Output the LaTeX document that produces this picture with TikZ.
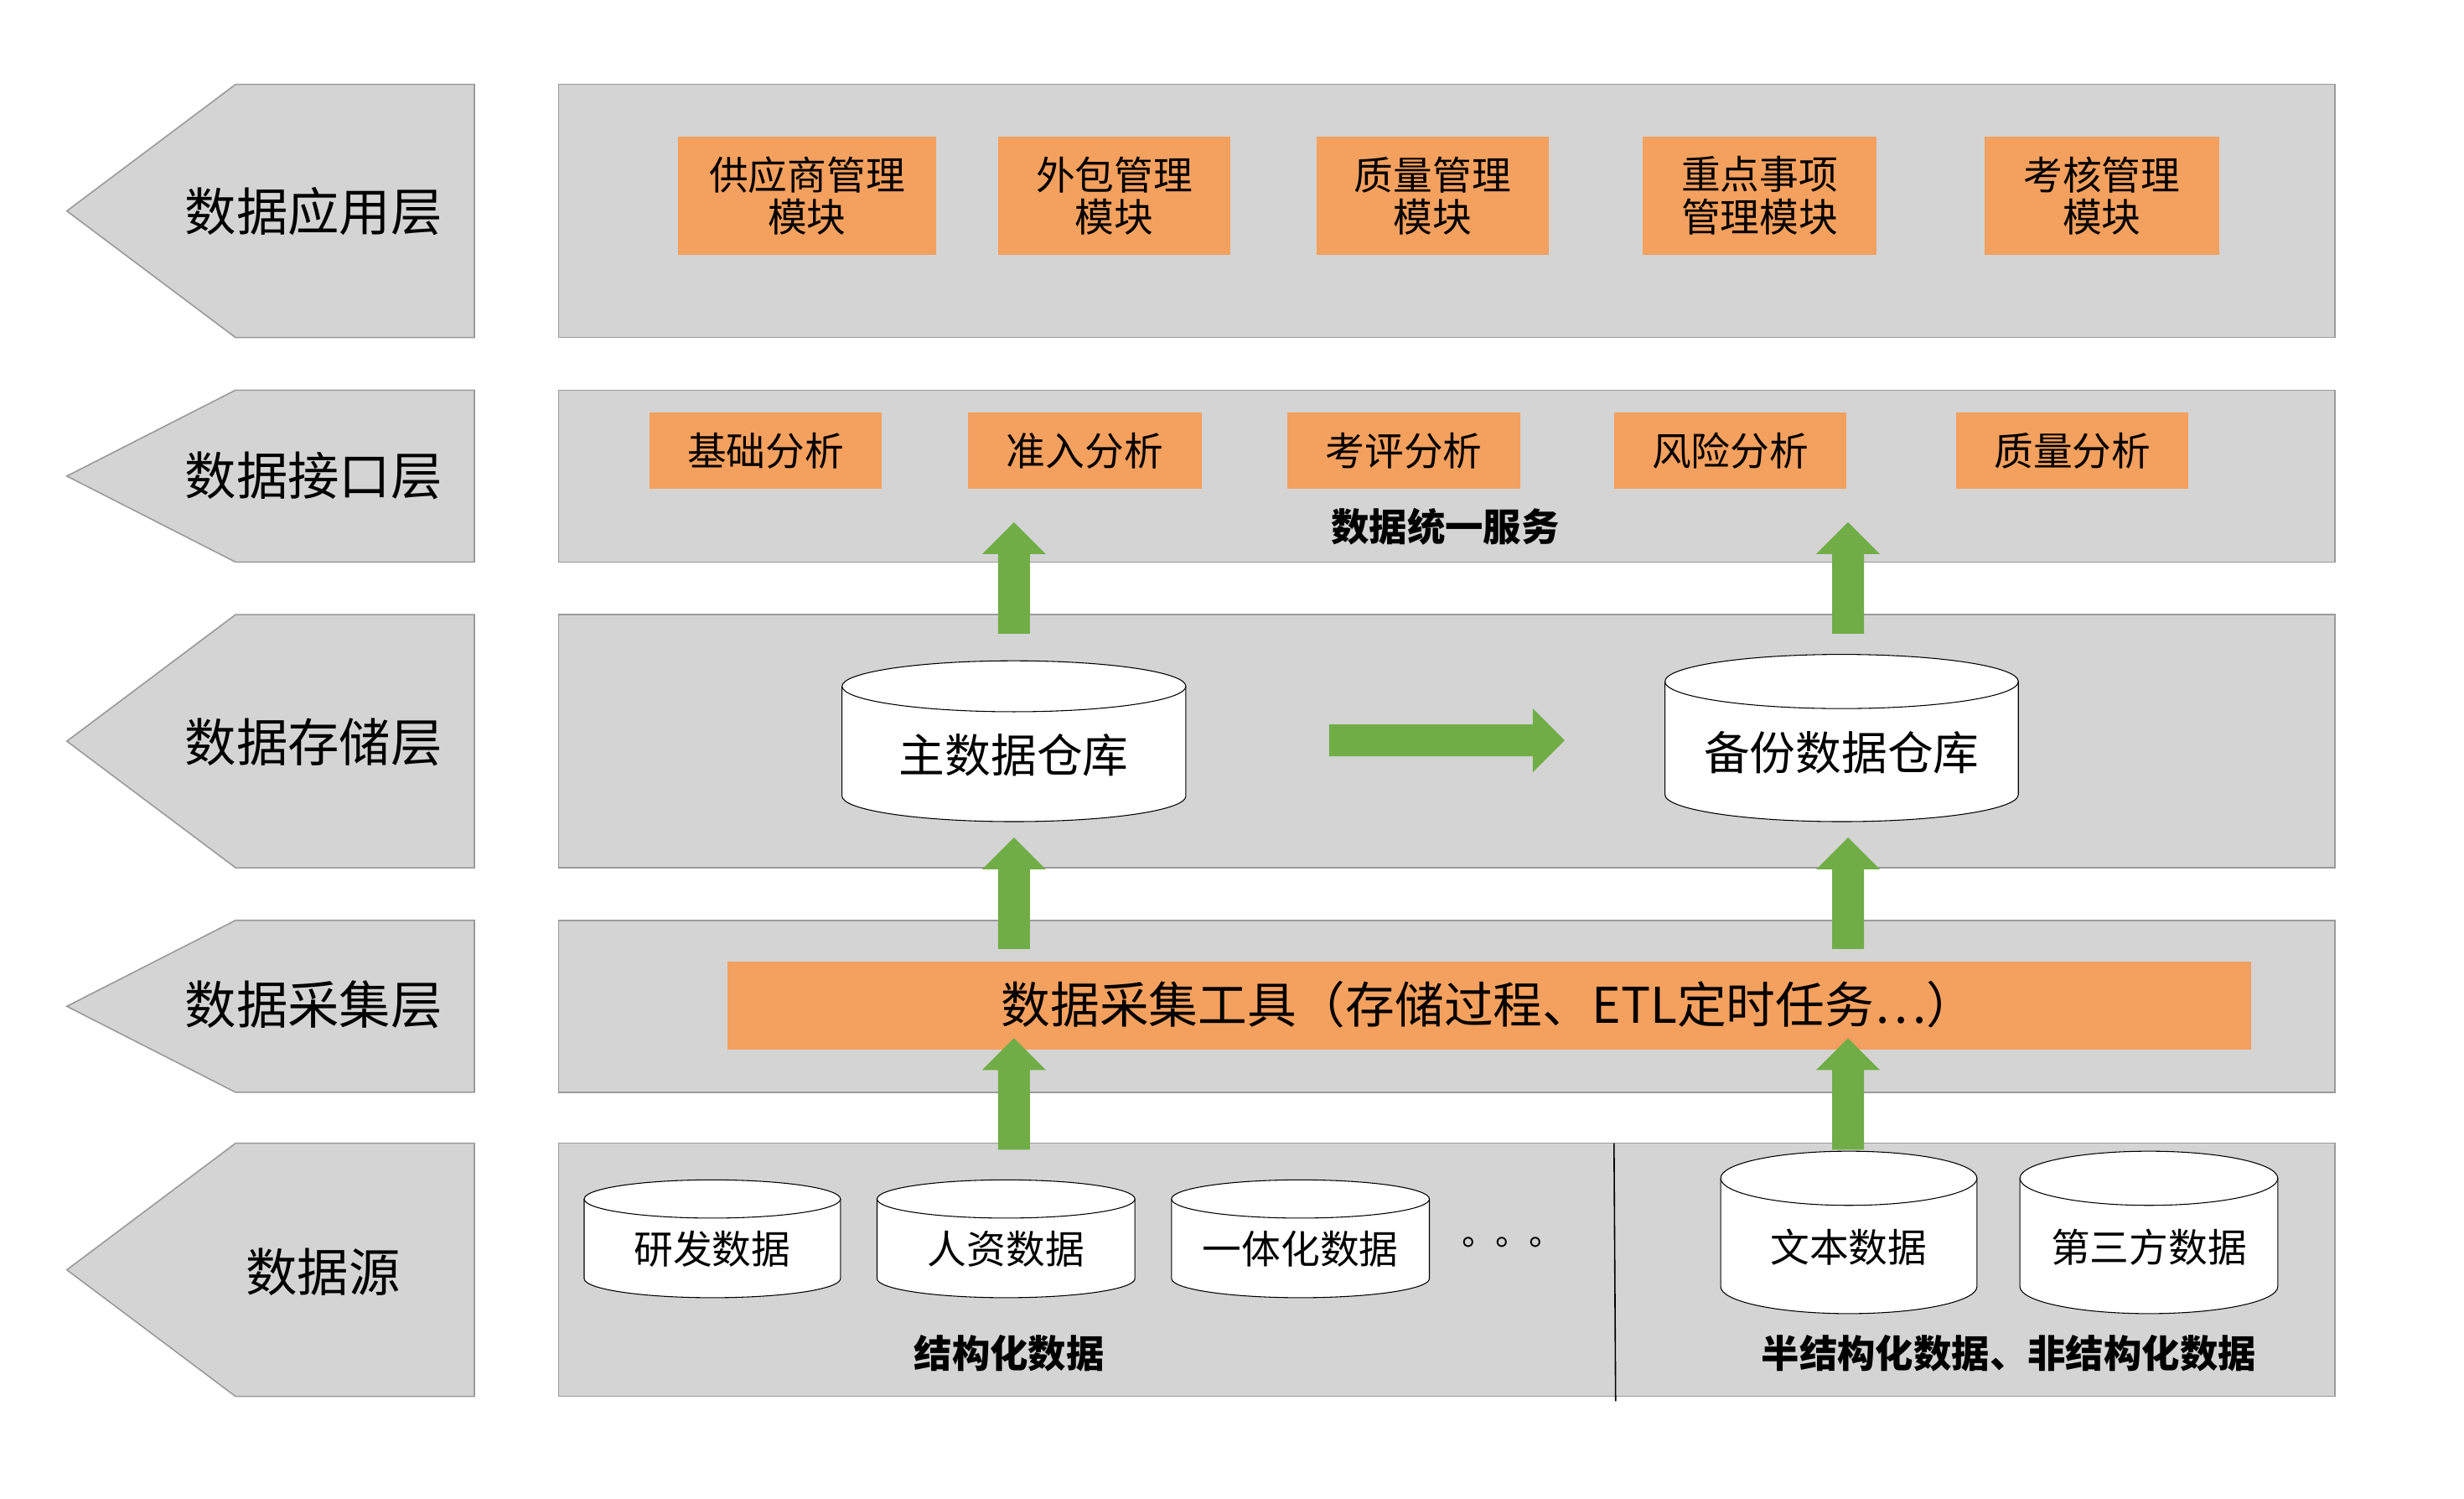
\documentclass[tikz,border=0pt]{standalone}
\usepackage{fontspec}
\setmainfont{Noto Sans CJK SC}
\begin{document}
\begin{tikzpicture}[x=0.5mm,y=-0.5mm,
  panel/.style={fill=panelgray,draw=edgegray,line width=1.2pt},
  obox/.style={fill=orangebox,draw=none},
  garrow/.style={fill=arrowgreen,draw=none},
  cylline/.style={draw=black,line width=0.8pt,fill=white}]
\definecolor{panelgray}{HTML}{D4D4D4}
\definecolor{edgegray}{HTML}{9A9A9A}
\definecolor{orangebox}{HTML}{F4A05F}
\definecolor{arrowgreen}{HTML}{70AD47}
\useasboundingbox (0,0) rectangle (1548,941);
\fill[white] (0,0) rectangle (1548,941);
\newcommand\layerarrow[5]{% top bottom labely labelx text
  \draw[panel] (42,{(#1+#2)/2}) -- (148,#1) -- (298,#1) -- (298,#2) -- (148,#2) -- cycle;
  \node[font=\fontsize{46}{50}\selectfont] at (#4,#3) {#5};
  \draw[panel] (351,#1) rectangle (1467,#2);}
\layerarrow{53}{212}{133}{197}{数据应用层}
\layerarrow{245}{353}{299}{197}{数据接口层}
\layerarrow{386}{545}{466}{197}{数据存储层}
\layerarrow{578}{686}{631}{197}{数据采集层}
\layerarrow{718}{877}{799}{203}{数据源}
\newcommand\ob[6]{\fill[obox] (#1,#3) rectangle (#2,#4);
  \node[align=center,font=\fontsize{35}{42}\selectfont] (#5) at ({(#1+#2)/2},{(#3+#4)/2}) {#6};}
\ob{426}{588}{86}{160}{a1}{供应商管理\\[-4pt]模块}
\ob{627}{773}{86}{160}{a2}{外包管理\\[-4pt]模块}
\ob{827}{973}{86}{160}{a3}{质量管理\\[-4pt]模块}
\ob{1032}{1179}{86}{160}{a4}{重点事项\\[-4pt]管理模块}
\ob{1247}{1394}{86}{160}{a5}{考核管理\\[-4pt]模块}
\ob{408}{554}{259}{307}{b1}{基础分析}
\ob{608}{755}{259}{307}{b2}{准入分析}
\ob{809}{955}{259}{307}{b3}{考评分析}
\ob{1014}{1160}{259}{307}{b4}{风险分析}
\ob{1229}{1375}{259}{307}{b5}{质量分析}
\node[font=\fontsize{34}{40}\selectfont\bfseries] (svc) at (908,331) {数据统一服务};
\fill[obox] (457,604) rectangle (1414,659);
\node[font=\fontsize{44}{50}\selectfont] (tool) at (935,631) {数据采集工具（存储过程、ETL定时任务…）};
\newcommand\uparr[3]{\fill[garrow] (#1-10,#2) -- (#1-10,#3+20) -- (#1-20,#3+20) -- (#1,#3) -- (#1+20,#3+20) -- (#1+10,#3+20) -- (#1+10,#2) -- cycle;}
\uparr{637}{398}{328}
\uparr{1161}{398}{328}
\uparr{637}{596}{526}
\uparr{1161}{596}{526}
\uparr{637}{722}{652}
\uparr{1161}{722}{652}
\fill[garrow] (835,455) -- (963,455) -- (963,445) -- (983,465) -- (963,485) -- (963,475) -- (835,475) -- cycle;
\newcommand\cyl[8]{% x1 x2 y1 y2 ry name text fontsize
  \fill[white] (#1,#3+#5) rectangle (#2,#4-#5);
  \draw[cylline] (#1,#3+#5) -- (#1,#4-#5) arc[start angle=180,end angle=0,x radius={(#2-#1)/2},y radius=#5] -- (#2,#3+#5);
  \draw[cylline] ({(#1+#2)/2},#3+#5) ellipse[x radius={(#2-#1)/2},y radius=#5];
  \node[font=\fontsize{#8}{#8}\selectfont] (#6) at ({(#1+#2)/2},{(#3+#4)/2+#5*0.55}) {#7};}
\cyl{529}{745}{415}{516}{16}{m1}{主数据仓库}{41}
\cyl{1046}{1268}{411}{516}{17}{m2}{备份数据仓库}{41}
\cyl{367}{528}{741}{815}{12}{s1}{研发数据}{35}
\cyl{551}{713}{741}{815}{12}{s2}{人资数据}{35}
\cyl{736}{898}{741}{815}{12}{s3}{一体化数据}{35}
\cyl{1081}{1242}{723}{825}{17}{s4}{文本数据}{35}
\cyl{1269}{1431}{723}{825}{17}{s5}{第三方数据}{35}
\node[font=\fontsize{30}{30}\selectfont] (dots) at (950,780) {。。。};
\coordinate (dv1) at (1014,718); \coordinate (dv2) at (1015,880);
\draw[line width=1.2pt] (dv1) -- (dv2);
\node[font=\fontsize{34}{40}\selectfont\bfseries] (l1) at (634,850) {结构化数据};
\node[font=\fontsize{34}{40}\selectfont\bfseries] (l2) at (1262,850) {半结构化数据、非结构化数据};
\end{tikzpicture}
\end{document}
